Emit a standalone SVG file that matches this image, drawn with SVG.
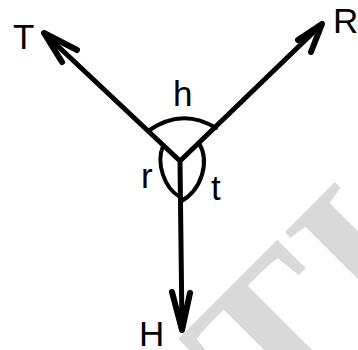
<svg xmlns="http://www.w3.org/2000/svg" width="358" height="350" viewBox="0 0 358 350">
<style>
.lbl{font-family:"Liberation Sans",Arial,sans-serif;font-size:35px;fill:#000}
.ln{fill:none;stroke:#000;stroke-width:5;stroke-linecap:round;stroke-linejoin:round}
.hd{fill:none;stroke:#000;stroke-width:6;stroke-linecap:round;stroke-linejoin:round}
.arc{fill:none;stroke:#000;stroke-width:4;stroke-linecap:round}
.wm{font-family:"Liberation Serif","Times New Roman",serif;font-weight:bold;font-size:220px;fill:#d9d9d9}
</style>
<rect width="358" height="350" fill="#fff"/>
<g id="watermark">
<text class="wm" transform="translate(224,286) rotate(-45)" x="-73" y="149">TI</text>
</g>
<g id="connectors">
<path class="ln" d="M180,161 L45,34"/>
<polyline class="hd" points="62,62 44,33 77,50"/>
<path class="ln" d="M180,161 L320,26"/>
<polyline class="hd" points="298,40 322,24 311,52"/>
<path class="ln" d="M180,161 L182,328"/>
<polyline class="hd" points="172,292 182,330 190,293"/>
<path class="arc" d="M148,131 Q182,107 216,128"/>
<path class="arc" d="M163,146 C156,163 164,188 180,197"/>
<path class="arc" d="M199,143 C210,162 202,190 180,202"/>
</g>
<g id="node-T"><text class="lbl" x="13" y="49">T</text></g>
<g id="node-R"><text class="lbl" x="333" y="33">R</text></g>
<g id="node-H"><text class="lbl" x="139" y="346">H</text></g>
<g id="label-h"><text class="lbl" x="173" y="106">h</text></g>
<g id="label-r"><text class="lbl" x="141" y="188">r</text></g>
<g id="label-t"><text class="lbl" x="211" y="200">t</text></g>
</svg>
